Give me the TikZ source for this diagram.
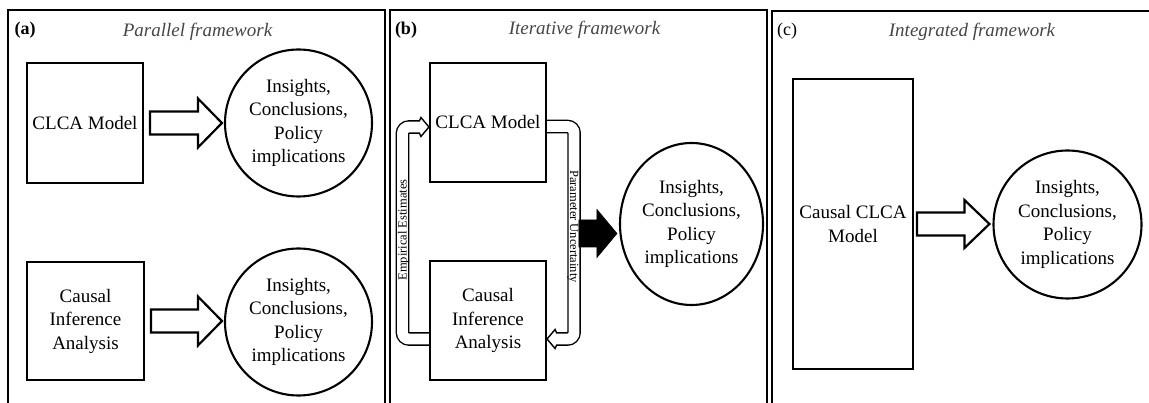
\documentclass[tikz,border=0pt]{standalone}
\usepackage{fontspec}
\setmainfont{Liberation Serif}
\usetikzlibrary{calc,shapes.geometric}

\definecolor{titlegray}{RGB}{70,70,70}

\tikzset{
  x=1pt, y=-1pt,
  frame/.style={draw, line width=2.3pt},
  boxnode/.style={draw, line width=2.1pt, align=center, inner sep=2pt,
                  font=\fontsize{19}{23.5}\selectfont},
  resultnode/.style={draw, circle, line width=2.1pt, minimum size=147pt, align=center,
                  inner sep=0pt, font=\fontsize{19}{23.5}\selectfont},
  title/.style={font=\fontsize{19}{22}\selectfont\itshape, text=titlegray},
  tag/.style={font=\fontsize{18}{22}\selectfont},
  hollow/.style={draw, fill=white, line width=2.2pt, line join=miter},
  solidarrow/.style={fill=black, draw=black, line width=0.6pt},
  loopline/.style={draw, line width=1.4pt, double=white, double distance=10.8pt,
                   rounded corners=6.5pt},
  loophead/.style={draw, line width=1.4pt, line join=miter},
  looplabel/.style={font=\fontsize{12.5}{14}\selectfont, inner sep=0pt}
}

\begin{document}
\begin{tikzpicture}
\useasboundingbox (0,0) rectangle (1149,403);
\clip (0,0) rectangle (1149,403);
\fill[white] (0,0) rectangle (1149,403);

% panel frames
\draw[frame] (8,10) rectangle (385,430);
\draw[frame] (390,10) rectangle (767,430);
\draw[frame] (772,11) rectangle (1170,430);

% headings
\node[tag, font=\fontsize{18}{22}\selectfont\bfseries] (taga) at (25,30) {(a)};
\node[tag, font=\fontsize{18}{22}\selectfont\bfseries] (tagb) at (406,30) {(b)};
\node[tag] (tagc) at (787,31) {(c)};
\node[title] (ta) at (197.5,31.5) {Parallel framework};
\node[title] (tb) at (584.5,30) {Iterative framework};
\node[title] (tc) at (972,31.5) {Integrated framework};

% ---------- (a) parallel framework ----------
\node[boxnode, minimum width=116pt, minimum height=120pt] (a1) at (85,123) {CLCA Model};
\node[boxnode, minimum width=117pt, minimum height=118pt] (a2) at (85.5,321)
     {Causal\\Inference\\Analysis};
\node[resultnode] (ra1) at (298.5,123) {Insights,\\Conclusions,\\Policy\\implications};
\node[resultnode] (ra2) at (298.5,322) {Insights,\\Conclusions,\\Policy\\implications};

\draw[hollow] let \p1=(a1.east), \p2=(ra1.west) in
  (\x1+6pt,\y1+11.5pt) -- (\x2-26pt,\y1+11.5pt) -- (\x2-26pt,\y1+24.5pt) --
  (\x2-2pt,\y1) -- (\x2-26pt,\y1-24.5pt) -- (\x2-26pt,\y1-11.5pt) --
  (\x1+6pt,\y1-11.5pt) -- cycle;
\draw[hollow] let \p1=(a2.east), \p2=(ra2.west) in
  (\x1+6pt,\y1+11.5pt) -- (\x2-26pt,\y1+11.5pt) -- (\x2-26pt,\y1+24.5pt) --
  (\x2-2pt,\y1) -- (\x2-26pt,\y1-24.5pt) -- (\x2-26pt,\y1-11.5pt) --
  (\x1+6pt,\y1-11.5pt) -- cycle;

% ---------- (b) iterative framework ----------
\node[boxnode, minimum width=116pt, minimum height=119pt] (b1) at (488,122.5) {CLCA Model};
\node[boxnode, minimum width=116pt, minimum height=119pt] (b2) at (488,320.5)
     {Causal\\Inference\\Analysis};
\node[draw, ellipse, line width=2.1pt, minimum width=143pt, minimum height=162pt,
      inner sep=0pt, align=center, font=\fontsize{19}{23.5}\selectfont]
     (rb) at (691.5,224) {Insights,\\Conclusions,\\Policy\\implications};

% feedback: empirical estimates (bottom box to top box, left side)
\coordinate (eTip) at ($(b1.west)+(0,4.5)$);
\draw[loopline] ($(b2.west)+(0,18.5)$) -- ++(-26.5,0) |- ($(eTip)+(-9,0)$);
\draw[loophead] ($(eTip)+(-9.5,-6.2)$) -- ($(eTip)+(-8,-9.5)$) -- (eTip)
  -- ($(eTip)+(-8,9.5)$) -- ($(eTip)+(-9.5,6.2)$);

% feedback: parameter uncertainty (top box to bottom box, right side)
\coordinate (pTip) at ($(b2.east)+(0,18.5)$);
\draw[loopline] ($(b1.east)+(0,4)$) -- ++(27,0) |- ($(pTip)+(9,0)$);
\draw[loophead] ($(pTip)+(9.5,-6.2)$) -- ($(pTip)+(8,-9.5)$) -- (pTip)
  -- ($(pTip)+(8,9.5)$) -- ($(pTip)+(9.5,6.2)$);

\node[looplabel, rotate=90] (emp) at (403.5,230) {Empirical Estimates};
\node[looplabel, rotate=-90] (par) at (573,226.5) {Parameter Uncertainty};

\fill[solidarrow] let \p2=(rb.west) in
  (\x2-40pt,\y2-9.5pt+13.5pt) -- (\x2-22pt,\y2-9.5pt+13.5pt) -- (\x2-22pt,\y2-9.5pt+24pt) --
  (\x2-2pt,\y2-9.5pt) -- (\x2-22pt,\y2-9.5pt-24pt) -- (\x2-22pt,\y2-9.5pt-13.5pt) --
  (\x2-40pt,\y2-9.5pt-13.5pt) -- cycle;

% ---------- (c) integrated framework ----------
\node[boxnode, minimum width=120pt, minimum height=290pt] (c1) at (853,224)
     {Causal CLCA\\Model};
\node[resultnode, minimum size=148pt] (rc) at (1067.5,224.5)
     {Insights,\\Conclusions,\\Policy\\implications};

\draw[hollow] let \p1=(c1.east), \p2=(rc.west) in
  (\x1+3pt,\y1+11.5pt) -- (\x2-28pt,\y1+11.5pt) -- (\x2-28pt,\y1+24pt) --
  (\x2-3pt,\y1) -- (\x2-28pt,\y1-24pt) -- (\x2-28pt,\y1-11.5pt) --
  (\x1+3pt,\y1-11.5pt) -- cycle;
\end{tikzpicture}
\end{document}
